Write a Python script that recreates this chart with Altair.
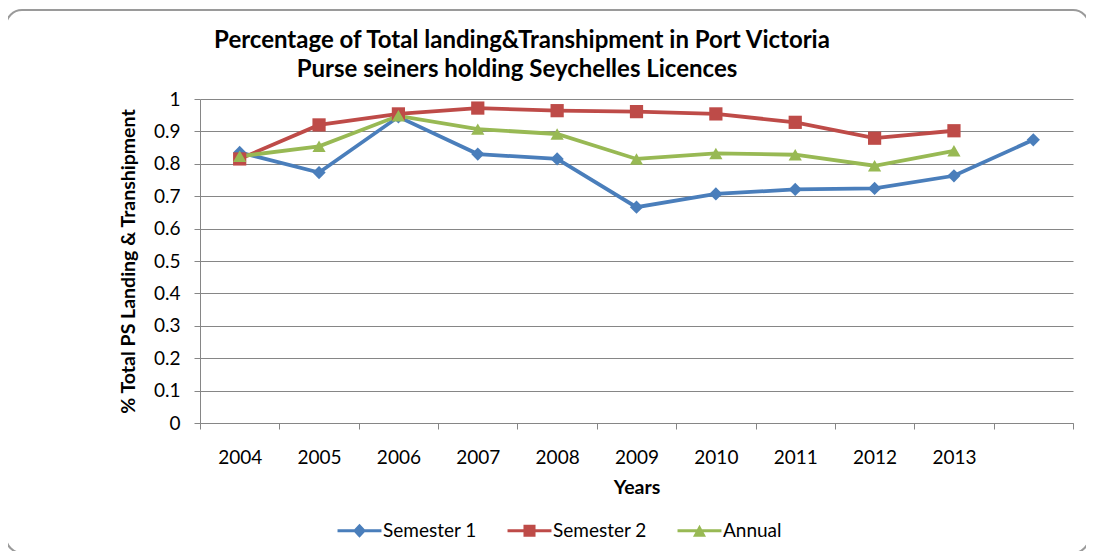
import altair as alt
import pandas as pd

# ---- data ----
years = ["2004", "2005", "2006", "2007", "2008", "2009", "2010", "2011", "2012", "2013", " "]
semester1 = [0.835, 0.773, 0.945, 0.830, 0.815, 0.666, 0.707, 0.721, 0.724, 0.763, 0.874]
semester2 = [0.815, 0.920, 0.954, 0.972, 0.964, 0.961, 0.954, 0.928, 0.879, 0.902, None]
annual = [0.823, 0.854, 0.948, 0.907, 0.892, 0.815, 0.832, 0.828, 0.794, 0.840, None]
series_names = ["Semester 1", "Semester 2", "Annual"]
y_ticks = [0, 0.1, 0.2, 0.3, 0.4, 0.5, 0.6, 0.7, 0.8, 0.9, 1]
title_lines = ["Percentage of Total landing&Transhipment in Port Victoria",
               "Purse seiners holding Seychelles Licences"]

colors = ["#4a7ebb", "#be4b48", "#98b954"]
shapes = ["diamond", "square", "triangle-up"]
legend_paths = [
    "M-3.14,-0.21H3.14V0.21H-3.14ZM0,-1L0.93,0L0,1L-0.93,0Z",
    "M-3.14,-0.21H3.14V0.21H-3.14ZM-0.86,-0.86H0.86V0.86H-0.86Z",
    "M-3.14,-0.21H3.14V0.21H-3.14ZM0,-0.86L0.93,0.86H-0.93Z",
]

rows = []
for name, vals in zip(series_names, [semester1, semester2, annual]):
    for yr, v in zip(years, vals):
        rows.append({"Year": yr, "Series": name, "Value": v})
df = pd.DataFrame(rows)

legend_df = pd.DataFrame({"Year": [years[0]] * 3, "Series": series_names, "Value": [None] * 3})

FONT = "Lato"

x_enc = alt.X(
    "Year:O",
    bandPosition=0.5,
    sort=years,
    scale=alt.Scale(type="band", domain=years, paddingInner=0, paddingOuter=0),
    axis=alt.Axis(
        title="Years", labelAngle=0, tickBand="extent", tickSize=6,
        labelPadding=19, titlePadding=11,
    ),
)
y_enc = alt.Y(
    "Value:Q",
    scale=alt.Scale(domain=[0, 1], nice=False, zero=True),
    axis=alt.Axis(
        title="% Total PS Landing & Transhipment", values=y_ticks, format="~g",
        tickSize=6, labelPadding=14, titlePadding=15, grid=True,
    ),
)
color_enc = alt.Color(
    "Series:N", sort=series_names,
    scale=alt.Scale(domain=series_names, range=colors), legend=None,
)

base = alt.Chart(df)

lines = base.mark_line(strokeWidth=3.8).encode(
    x=x_enc, y=y_enc, color=color_enc, detail="Series:N"
)
points = base.mark_point(filled=True, opacity=1, size=175).encode(
    x=x_enc, y=y_enc, color=color_enc,
    shape=alt.Shape("Series:N", sort=series_names,
                    scale=alt.Scale(domain=series_names, range=shapes), legend=None),
)

legend_layer = alt.Chart(legend_df).mark_point(filled=True, opacity=1).encode(
    x=x_enc, y=y_enc,
    color=alt.Color(
        "Series:N", sort=series_names,
        scale=alt.Scale(domain=series_names, range=colors),
        legend=alt.Legend(
            title=None, orient="none", direction="horizontal", columns=3,
            legendX=150, legendY=422, symbolSize=196, symbolStrokeWidth=0,
            labelOffset=14, columnPadding=30, padding=0,
            labelFontSize=19, labelFont=FONT, labelColor="#000000",
            symbolOpacity=1,
        ),
    ),
    shape=alt.Shape("Series:N", sort=series_names,
                    scale=alt.Scale(domain=series_names, range=legend_paths)),
)

frame = alt.Chart(alt.Data(values=[{}])).mark_rect(
    fill=None, stroke="#9a9a9a", strokeWidth=2, cornerRadius=16
).encode(
    x=alt.value(-194), x2=alt.value(889), y=alt.value(-89), y2=alt.value(454)
)

title1 = alt.Chart(alt.Data(values=[{}])).mark_text(
    text=title_lines[0], font=FONT, fontSize=24, fontWeight="bold",
    color="#000000", align="center", baseline="middle",
).encode(x=alt.value(322), y=alt.value(-58))

title2 = alt.Chart(alt.Data(values=[{}])).mark_text(
    text=title_lines[1], font=FONT, fontSize=24, fontWeight="bold",
    color="#000000", align="center", baseline="middle",
).encode(x=alt.value(317), y=alt.value(-29))

chart = alt.layer(frame, title1, title2, lines, points, legend_layer).resolve_scale(
    color="independent", shape="independent"
).properties(
    width=873,
    height=324,
    background="#ffffff",
    padding={"left": 192, "top": 91, "right": 13, "bottom": 128},
    autosize=alt.AutoSizeParams(type="none"),
).configure_view(
    stroke=None
).configure_axis(
    labelFont=FONT, labelFontSize=19, labelColor="#000000",
    titleFont=FONT, titleFontSize=19.5, titleFontWeight="bold", titleColor="#000000",
    domainColor="#868686", tickColor="#868686", gridColor="#868686",
    domainWidth=1, tickWidth=1, gridWidth=1,
)

chart.save("out.html", embed_options={"renderer": "svg", "actions": False})
